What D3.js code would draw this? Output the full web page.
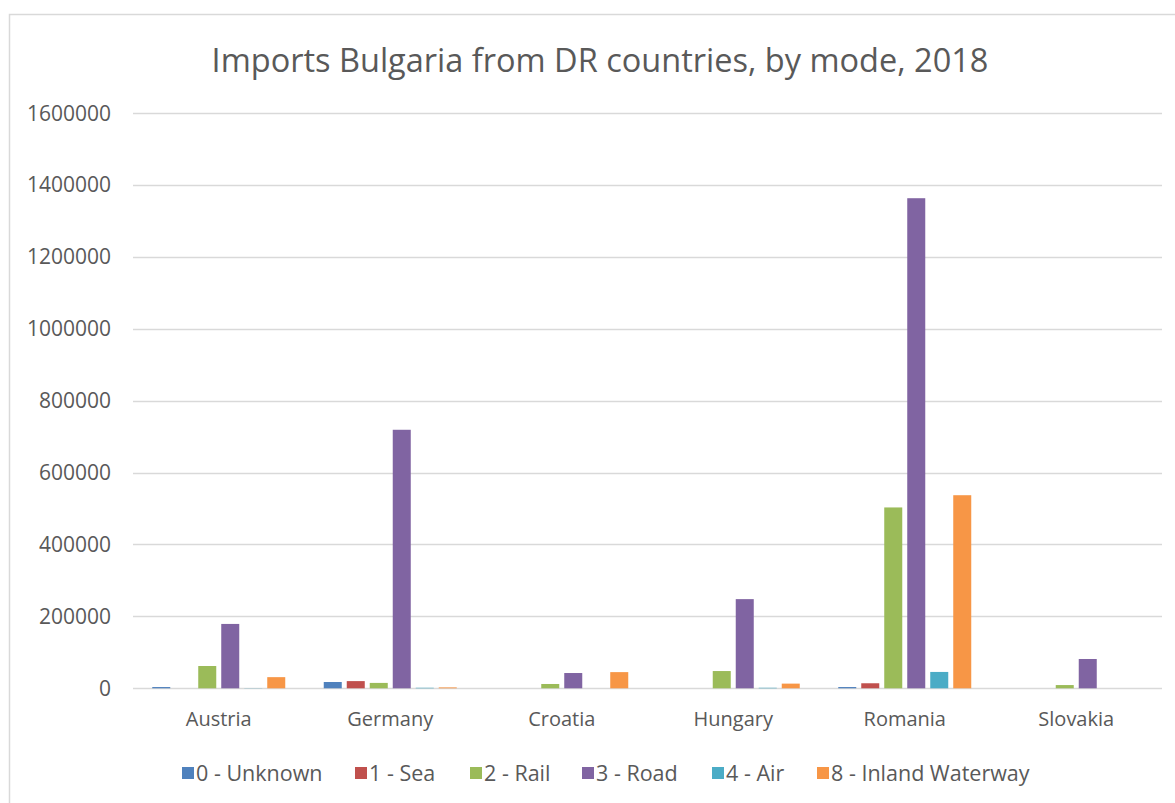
<!DOCTYPE html>
<html>
<head>
<meta charset="utf-8">
<script src="https://cdn.jsdelivr.net/npm/d3@7"></script>
<style>
  body { margin: 0; background: #fff; }
  text { font-family: "Open Sans", sans-serif; fill: #595959; }
</style>
</head>
<body>
<div id="chart"></div>
<script>
const countries = ["Austria", "Germany", "Croatia", "Hungary", "Romania", "Slovakia"];
const modes = ["0 - Unknown", "1 - Sea", "2 - Rail", "3 - Road", "4 - Air", "8 - Inland Waterway"];
const unknown = [3500, 17500, 0, 0, 3500, 0];
const sea = [0, 20000, 0, 0, 14000, 0];
const rail = [62000, 15000, 12000, 48000, 503000, 9000];
const road = [179000, 719000, 42500, 248000, 1363000, 81500];
const air = [500, 1500, 0, 1500, 45500, 0];
const inland = [31000, 2500, 45000, 13000, 537000, 0];
const yTicks = [0, 200000, 400000, 600000, 800000, 1000000, 1200000, 1400000, 1600000];
const colors = ["#4F81BD", "#C0504D", "#9BBB59", "#8064A2", "#4BACC6", "#F79646"];

const series = [unknown, sea, rail, road, air, inland];

const W = 1175, H = 803;
const margin = {top: 113, right: 13, bottom: 114.7, left: 133};
const width = W - margin.left - margin.right,
      height = H - margin.top - margin.bottom;

const svg = d3.select("#chart").append("svg")
    .attr("width", W)
    .attr("height", H);

// chart border
svg.append("rect")
    .attr("x", 9.5).attr("y", 14.5)
    .attr("width", W + 10).attr("height", H + 10)
    .attr("fill", "none")
    .attr("stroke", "#d9d9d9")
    .attr("stroke-width", 1.5);

svg.append("text")
    .attr("x", 600).attr("y", 72)
    .attr("text-anchor", "middle")
    .style("font-size", "32.5px")
    .text("Imports Bulgaria from DR countries, by mode, 2018");

const g = svg.append("g")
    .attr("transform", `translate(${margin.left},${margin.top})`);

const y = d3.scaleLinear().domain([0, 1600000]).range([height, 0]);
const x0 = d3.scaleBand().domain(countries).range([0, width]).paddingInner(0).paddingOuter(0);
const x1 = d3.scaleBand().domain(modes).range([0, x0.bandwidth()])
    .paddingInner(0.217).paddingOuter(0.837);

// gridlines
g.selectAll(".grid")
  .data(yTicks)
  .join("line")
    .attr("x1", 0).attr("x2", width)
    .attr("y1", d => Math.round(y(d)) + 0.5)
    .attr("y2", d => Math.round(y(d)) + 0.5)
    .attr("stroke", "#d9d9d9")
    .attr("stroke-width", 1.5);

// y tick labels
g.selectAll(".ylab")
  .data(yTicks)
  .join("text")
    .attr("x", -22)
    .attr("y", d => y(d))
    .attr("dy", "0.36em")
    .attr("text-anchor", "end")
    .style("font-size", "21px")
    .text(d => d);

// bars
const rows = countries.map((c, i) => ({country: c, vals: modes.map((m, j) => ({mode: m, value: series[j][i], j}))}));

g.selectAll(".group")
  .data(rows)
  .join("g")
    .attr("transform", d => `translate(${x0(d.country)},0)`)
  .selectAll("rect")
  .data(d => d.vals)
  .join("rect")
    .attr("x", d => x1(d.mode))
    .attr("y", d => y(d.value))
    .attr("width", x1.bandwidth())
    .attr("height", d => height - y(d.value))
    .attr("fill", d => colors[d.j]);

// x labels
g.selectAll(".xlab")
  .data(countries)
  .join("text")
    .attr("x", d => x0(d) + x0.bandwidth() / 2)
    .attr("y", height + 38)
    .attr("text-anchor", "middle")
    .style("font-size", "20px")
    .text(d => d);

// legend
const legendX = [182, 355, 470, 582, 712, 817];
const legend = svg.selectAll(".legend")
  .data(modes)
  .join("g")
    .attr("transform", (d, i) => `translate(${legendX[i]},773)`);
legend.append("rect")
    .attr("x", 0).attr("y", -6)
    .attr("width", 12).attr("height", 12)
    .attr("fill", (d, i) => colors[i]);
legend.append("text")
    .attr("x", 14).attr("y", 0)
    .attr("dy", "0.36em")
    .style("font-size", "21.5px")
    .text(d => d);
</script>
</body>
</html>
